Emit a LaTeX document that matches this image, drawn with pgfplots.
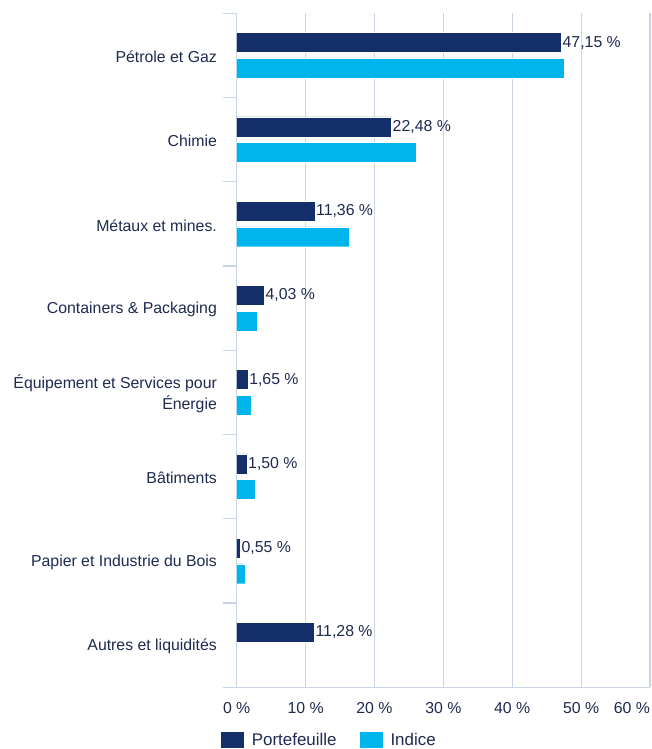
\documentclass[border=0pt]{standalone}
\usepackage{fontspec}
\setmainfont{Liberation Sans}
\usepackage{pgfplots}
\usepackage{pgfplotstable}
\pgfplotsset{compat=1.18}
\definecolor{navy}{RGB}{19,46,105}
\definecolor{cyanb}{RGB}{0,181,235}
\definecolor{txt}{RGB}{30,42,80}
\definecolor{gridc}{RGB}{201,213,230}
\pgfplotstableread{
y val lab
0 47.15 {47,15 \%}
1 22.48 {22,48 \%}
2 11.36 {11,36 \%}
3 4.03 {4,03 \%}
4 1.65 {1,65 \%}
5 1.50 {1,50 \%}
6 0.55 {0,55 \%}
7 11.28 {11,28 \%}
}\portef
\pgfplotstableread{
y val
0 47.60
1 26.00
2 16.35
3 2.96
4 2.13
5 2.75
6 1.26
}\indice
\begin{document}
\begin{tikzpicture}
\begin{axis}[
  name=ax,
  scale only axis,
  width=413.3bp, height=674bp,
  xmin=0, xmax=60,
  ymin=-0.5, ymax=7.5,
  y dir=reverse,
  axis x line*=bottom, axis y line*=left,
  axis line style={-, draw=gridc, line width=1.2bp},
  xtick={0,10,...,60},
  xticklabels={0 \%,10 \%,20 \%,30 \%,40 \%,50 \%,\makebox[0pt][r]{60 \%}},
  xmajorgrids,
  grid style={draw=gridc, line width=1.2bp},
  ytick={0,...,7},
  yticklabels={P\'etrole et Gaz,Chimie,M\'etaux et mines.,Containers \& Packaging,{\'Equipement et Services pour\\\'Energie},B\^atiments,Papier et Industrie du Bois,Autres et liquidit\'es},
  minor ytick={-0.5,0.5,...,7.5},
  major tick length=0pt,
  minor tick length=14bp,
  tick align=outside,
  minor tick style={draw=gridc, line width=1.2bp},
  tick label style={font=\fontsize{15.9}{21}\selectfont, text=txt},
  yticklabel style={align=right, xshift=-16.3bp, yshift=-1.5bp},
  xticklabel style={yshift=-12bp},
  xbar,
  bar width=0.237,
  legend columns=2,
  legend style={draw=none, fill=none, inner sep=0pt, outer sep=0pt,
    at={(axis description cs:-0.0404,-0.0915)}, anchor=south west,
    font=\fontsize{17}{20}\selectfont, text=txt,
    /tikz/every odd column/.append style={column sep=5bp},
    /tikz/every even column/.append style={column sep=20bp}},
  legend image code/.code={\fill[#1] (0bp,-8.5bp) rectangle (24.5bp,8.5bp);},
]
\addplot[fill=navy, draw=white, line width=0.4bp, bar shift=-0.152,
  nodes near coords, point meta=explicit symbolic,
  nodes near coords style={anchor=west, inner sep=1bp, font=\fontsize{15.9}{18}\selectfont, text=txt}]
  table[x=val, y=y, meta=lab] {\portef};
\addlegendentry{Portefeuille}
\addplot[fill=cyanb, draw=white, line width=0.4bp, bar shift=0.152]
  table[x=val, y=y] {\indice};
\addlegendentry{Indice}
\end{axis}
\pgfresetboundingbox
\path ([xshift=-236.7bp, yshift=-61.7bp]ax.south west) rectangle ([xshift=2bp, yshift=13.3bp]ax.north east);
\end{tikzpicture}
\end{document}
